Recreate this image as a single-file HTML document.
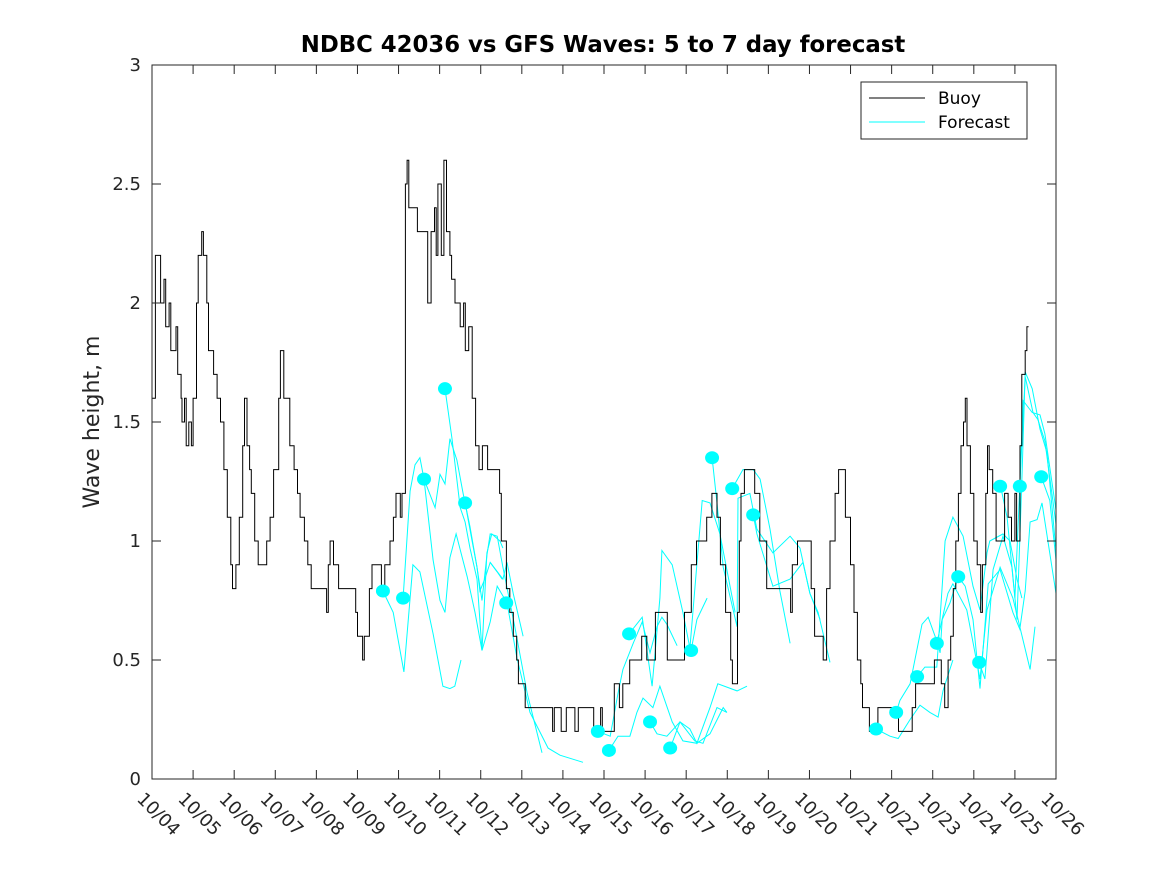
<!DOCTYPE html>
<html><head><meta charset="utf-8"><style>
html,body{margin:0;padding:0;background:#fff;}
svg{display:block;font-family:"DejaVu Sans","Liberation Sans",sans-serif;}
</style></head><body>
<svg id="chart" width="1167" height="875" viewBox="0 0 1167 875" xmlns="http://www.w3.org/2000/svg">
<rect width="1167" height="875" fill="#fff"/>
<text x="603" y="52" text-anchor="middle" font-size="22.8" font-weight="bold" fill="#000">NDBC 42036 vs GFS Waves: 5 to 7 day forecast</text>
<text transform="translate(99,422) rotate(-90)" text-anchor="middle" font-size="22" fill="#262626">Wave height, m</text>
<g id="marks"></g>
<g id="axes"></g>
<g>
<rect x="861" y="82" width="166" height="57" fill="#fff" stroke="#262626" stroke-width="1"/>
<line x1="869" y1="98" x2="925" y2="98" stroke="#000" stroke-width="1"/>
<text x="938" y="104" font-size="17" fill="#000">Buoy</text>
<line x1="869" y1="122" x2="925" y2="122" stroke="#00ffff" stroke-width="1"/>
<text x="938" y="128" font-size="17" fill="#000">Forecast</text>
</g>
</svg>
<script>
// Buoy observations: hours since 10/04 00:00 and significant wave height (m)
const buoyHours = [0,2,5,7,8,10,11,14,15,17,17.5,19,20,21.5,23,24,26,27,29,30,32,33,36,38,40,42,44,46,47,49,51,53,54,55.5,57,58,60,62,67,69,71,74,75,77,80.5,83,85,86.5,89,91,93,102,103,104,106,109,119,120,123,124,127,128.5,134,136,139,141,142.5,145,146,148,149,150,152,155,161,163,165,166,167,169,170.5,172,174,175,177,180,182,183,185,187,189,191,193,196,203,204,207,209,211,213,214,218,234,235,239,242,247,249,258,262,263,270,273,275,279,286,289,294,301,311,315,318,324,327,330,332,335,338,339,342,343,344,346,352,355,359,373,374,377,385,387,392,394,396,399,401,405,408,410,412,414,415,419,424,436,444,446,457,461,463,465,466.5,468,469.5,471,472.5,474,475,476,478,480,482,484,485,487,488,489,491,493,498,500,502,504,505,507,508,510,511,512];
const buoyVals = [1.6,2.2,2.0,2.1,1.9,2.0,1.8,1.9,1.7,1.6,1.5,1.6,1.4,1.5,1.4,1.6,2.0,2.2,2.3,2.2,2.0,1.8,1.7,1.6,1.5,1.3,1.1,0.9,0.8,0.9,1.1,1.4,1.6,1.4,1.3,1.2,1.0,0.9,1.0,1.1,1.3,1.6,1.8,1.6,1.4,1.3,1.2,1.1,1.0,0.9,0.8,0.7,0.9,1.0,0.9,0.8,0.7,0.6,0.5,0.6,0.8,0.9,0.8,0.9,1.0,1.1,1.2,1.1,1.2,2.5,2.6,2.4,2.4,2.3,2.0,2.3,2.4,2.2,2.5,2.2,2.6,2.3,2.2,2.1,2.0,1.9,2.0,1.8,1.9,1.6,1.4,1.3,1.4,1.3,1.2,1.0,0.8,0.7,0.6,0.5,0.4,0.3,0.2,0.3,0.2,0.3,0.2,0.3,0.2,0.3,0.2,0.4,0.3,0.4,0.5,0.6,0.5,0.7,0.5,0.7,0.9,1.0,1.1,1.2,1.1,0.9,0.7,0.5,0.4,0.7,1.0,1.2,1.3,1.2,1.0,0.8,0.7,0.9,1.0,0.8,0.6,0.5,0.8,1.0,1.2,1.3,1.1,0.9,0.7,0.5,0.4,0.3,0.2,0.3,0.2,0.3,0.4,0.5,0.4,0.3,0.5,0.6,0.8,1.0,1.2,1.4,1.5,1.6,1.4,1.2,1.0,0.9,0.7,0.9,1.2,1.4,1.3,1.2,1.0,1.2,1.1,1.0,1.2,1.0,1.4,1.7,1.8,1.9,1.9];

// Forecast runs: [days since 10/04, height m]
const forecastRuns = [
 [[5.62,0.79],[5.87,0.70],[6.13,0.45],[6.35,0.90],[6.52,0.87],[6.84,0.61],[7.08,0.39],[7.25,0.38],[7.37,0.39],[7.52,0.50]],
 [[6.11,0.76],[6.28,1.21],[6.40,1.32],[6.52,1.35],[6.62,1.26],[6.89,1.14],[7.01,1.28],[7.13,1.24],[7.25,1.43],[7.42,1.34],[7.57,1.20],[7.74,1.06],[7.91,0.89],[7.98,0.79],[8.10,0.84],[8.23,0.91],[8.40,0.87],[8.52,0.84]],
 [[6.62,1.26],[6.84,0.92],[7.01,0.75],[7.13,0.70],[7.25,0.93],[7.40,1.03],[7.67,0.85],[7.86,0.70],[8.03,0.54],[8.15,0.95],[8.27,1.03],[8.47,1.00],[8.54,0.97]],
 [[7.13,1.64],[7.30,1.43],[7.50,1.14],[7.62,1.08],[7.74,0.97],[7.91,0.84],[8.03,0.54],[8.23,0.66],[8.40,0.81],[8.64,0.74],[8.88,0.51],[9.20,0.28],[9.64,0.13],[9.93,0.10],[10.49,0.07]],
 [[7.62,1.16],[7.79,1.00],[7.91,0.89],[8.03,0.75],[8.15,0.94],[8.23,1.03],[8.40,1.02],[8.54,0.89],[8.83,0.64],[9.13,0.36],[9.49,0.11]],
 [[8.23,0.91],[8.54,0.84],[8.64,0.91],[8.79,0.78],[9.03,0.60]],
 [[10.85,0.20],[11.15,0.18],[11.34,0.36],[11.46,0.46],[11.71,0.57],[11.93,0.66],[12.12,0.53],[12.29,0.64],[12.41,0.68],[12.53,0.65],[12.78,0.56]],
 [[11.12,0.12],[11.34,0.18],[11.63,0.18],[11.80,0.28],[11.95,0.34],[12.19,0.30],[12.36,0.39],[12.66,0.24],[12.92,0.16],[13.26,0.15],[13.58,0.19],[13.90,0.30],[13.99,0.28]],
 [[11.61,0.61],[11.93,0.68],[12.17,0.39],[12.36,0.76],[12.41,0.96],[12.66,0.90],[12.92,0.70],[13.09,0.55],[13.39,1.17],[13.58,1.16],[13.82,1.03],[14.19,0.70]],
 [[12.12,0.24],[12.29,0.19],[12.53,0.18],[12.85,0.24],[13.09,0.21],[13.26,0.15],[13.58,0.30],[13.77,0.40],[14.24,0.37],[14.48,0.39]],
 [[12.61,0.13],[12.85,0.24],[13.21,0.16],[13.41,0.15],[13.75,0.30],[13.99,0.28]],
 [[13.12,0.54],[13.26,0.67],[13.51,0.76]],
 [[13.63,1.35],[13.75,1.16],[13.90,0.89],[14.24,0.64],[14.26,1.18],[14.55,1.20],[14.72,1.05],[15.11,0.95],[15.53,1.02],[15.77,0.97],[16.01,0.78],[16.21,0.70],[16.50,0.49]],
 [[14.12,1.22],[14.38,1.30],[14.63,1.30],[14.80,1.26],[15.04,1.05],[15.28,0.79],[15.53,0.57]],
 [[14.63,1.11],[14.72,1.03],[15.11,0.81],[15.53,0.84],[15.84,0.91],[16.01,0.78],[16.26,0.67]],
 [[17.62,0.21],[17.96,0.18],[18.16,0.17],[18.45,0.25],[18.69,0.31],[18.93,0.28],[19.13,0.26],[19.25,0.37],[19.49,0.50]],
 [[18.11,0.28],[18.20,0.33],[18.45,0.40],[18.74,0.65],[18.89,0.68],[19.10,0.58],[19.18,0.53],[19.23,0.67],[19.42,0.74],[19.62,0.85]],
 [[18.62,0.43],[18.81,0.47],[19.10,0.47],[19.23,0.81],[19.30,1.00],[19.49,1.10],[19.74,1.02],[19.98,0.81],[20.15,0.71],[20.32,0.95],[20.39,1.00],[20.71,1.03],[20.88,1.00],[21.05,0.84],[21.17,0.76]],
 [[19.10,0.57],[19.37,0.78],[19.49,0.82],[19.83,0.71],[20.15,0.42],[20.32,0.71],[20.64,0.89],[20.95,0.76],[21.12,0.64],[21.37,0.46],[21.49,0.64]],
 [[19.62,0.85],[19.79,0.81],[19.98,0.67],[20.15,0.38],[20.35,0.82],[20.64,0.88],[20.95,0.70],[21.12,0.63],[21.25,0.79],[21.37,1.08],[21.54,1.09],[21.66,1.16],[22.0,0.78]],
 [[20.13,0.49],[20.27,0.42],[20.47,0.88],[20.71,1.02],[20.93,0.89],[21.05,0.67],[21.17,1.26],[21.25,1.71],[21.42,1.64],[21.61,1.47],[21.78,1.37],[22.0,0.96]],
 [[20.64,1.24],[20.81,1.10],[21.00,0.76],[21.12,1.23],[21.20,1.59],[21.42,1.54],[21.61,1.53],[21.73,1.45],[22.0,1.13]],
 [[21.12,1.24],[21.25,1.69],[21.44,1.54],[21.56,1.51],[21.73,1.42],[22.0,1.07]],
 [[21.64,1.27],[21.85,1.17],[22.0,0.92]]
];
const dotDays = [5.62,6.11,6.62,7.13,7.62,8.62,10.85,11.12,11.61,12.12,12.61,13.12,13.63,14.12,14.63,17.62,18.11,18.62,19.10,19.62,20.13,20.64,21.12,21.64];
const dotVals = [0.79,0.76,1.26,1.64,1.16,0.74,0.20,0.12,0.61,0.24,0.13,0.54,1.35,1.22,1.11,0.21,0.28,0.43,0.57,0.85,0.49,1.23,1.23,1.27];
const xTickLabels = ["10/04","10/05","10/06","10/07","10/08","10/09","10/10","10/11","10/12","10/13","10/14","10/15","10/16","10/17","10/18","10/19","10/20","10/21","10/22","10/23","10/24","10/25","10/26"];
const yTickVals = [0,0.5,1,1.5,2,2.5,3];
const yTickLabels = ["0","0.5","1","1.5","2","2.5","3"];

const NS="http://www.w3.org/2000/svg";
const X0=152,X1=1056,Y0=779,Y1=65,NDAYS=22,YMAX=3;
function xScale(d){return X0+(X1-X0)*d/NDAYS;}
function yScale(v){return Y0-(Y0-Y1)*v/YMAX;}
function mk(tag,attrs,parent){const e=document.createElementNS(NS,tag);for(const k in attrs)e.setAttribute(k,attrs[k]);parent.appendChild(e);return e;}
const marks=document.getElementById('marks');
const axes=document.getElementById('axes');

forecastRuns.forEach((run,i)=>{
  const p=mk('polyline',{points:run.map(q=>xScale(q[0]).toFixed(1)+','+yScale(q[1]).toFixed(1)).join(' '),fill:'none',stroke:'#00ffff','stroke-width':1},marks);
  
  
});
let pts=[];
for(let i=0;i<buoyHours.length;i++){
  const x=xScale(buoyHours[i]/24);
  if(i>0)pts.push(x.toFixed(1)+','+yScale(buoyVals[i-1]).toFixed(1));
  pts.push(x.toFixed(1)+','+yScale(buoyVals[i]).toFixed(1));
}
const bl=mk('polyline',{points:pts.join(' '),fill:'none',stroke:'#000','stroke-width':1},marks);


dotDays.forEach((d,i)=>{
  const c=mk('ellipse',{cx:xScale(d),cy:yScale(dotVals[i]),rx:7,ry:6.5,fill:'#00ffff'},marks);
  
  
});
const box=mk('rect',{x:X0,y:Y1,width:X1-X0,height:Y0-Y1,fill:'none',stroke:'#262626','stroke-width':1},axes);


xTickLabels.forEach((lab,i)=>{
  const x=xScale(i);
  mk('line',{x1:x,y1:Y0,x2:x,y2:Y0-9,stroke:'#262626'},axes);
  mk('line',{x1:x,y1:Y1,x2:x,y2:Y1+9,stroke:'#262626'},axes);
  const ox=x-16, oy=Y0+21;
  const t=mk('text',{x:ox,y:oy,transform:'rotate(45 '+ox+' '+oy+')','font-size':18,fill:'#262626'},axes);
  t.textContent=lab;
  
  
});
yTickVals.forEach((v,i)=>{
  const y=yScale(v);
  mk('line',{x1:X0,y1:y,x2:X0+9,y2:y,stroke:'#262626'},axes);
  mk('line',{x1:X1,y1:y,x2:X1-9,y2:y,stroke:'#262626'},axes);
  const t=mk('text',{x:X0-11,y:y+6,'text-anchor':'end','font-size':18,fill:'#262626'},axes);
  t.textContent=yTickLabels[i];
  
  
});
</script>
</body></html>
